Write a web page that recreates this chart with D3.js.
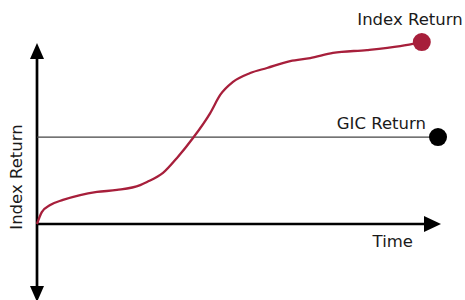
<!DOCTYPE html>
<html>
<head>
<meta charset="utf-8">
<script src="https://cdnjs.cloudflare.com/ajax/libs/d3/7.8.5/d3.min.js"></script>
<style>
  body { margin: 0; background: #fff; }
  text { font-family: "DejaVu Sans", sans-serif; font-size: 16.5px; fill: #1a1a1a; }
</style>
</head>
<body>
<svg id="chart"></svg>
<script>
// index return path, time vs return (arbitrary units)
const indexTime   = [0, 0.12, 0.33, 0.65, 1.08, 1.5, 2.0, 2.58, 2.75, 3.15, 3.5, 3.9, 4.33, 4.58, 4.9, 5.33, 5.75, 6.33, 6.83, 7.4, 8.25, 9.08, 9.62];
const indexReturn = [0, 0.66, 1.05, 1.33, 1.6, 1.77, 1.88, 2.15, 2.32, 2.82, 3.65, 4.75, 6.13, 7.13, 7.85, 8.34, 8.62, 9.0, 9.17, 9.45, 9.61, 9.83, 10.05];
const gicReturn = 4.8;
const gicEnd = 10;
const labels = { index: "Index Return", gic: "GIC Return", x: "Time", y: "Index Return" };

const width = 465, height = 300;
const svg = d3.select("#chart").attr("width", width).attr("height", height);

const x = d3.scaleLinear().domain([0, 10]).range([37, 437]);
const y = d3.scaleLinear().domain([0, 10]).range([224, 43]);

const red = "#a71f3b";

// axes with arrow heads
const x0 = x(0), y0 = y(0);
svg.append("line").attr("x1", x0).attr("y1", y0).attr("x2", 428).attr("y2", y0)
    .attr("stroke", "#000").attr("stroke-width", 2.7);
svg.append("path").attr("d", `M441,${y0} L424,${y0 - 8} L424,${y0 + 8} Z`).attr("fill", "#000");

svg.append("line").attr("x1", x0).attr("y1", 55).attr("x2", x0).attr("y2", 292)
    .attr("stroke", "#000").attr("stroke-width", 2.7);
svg.append("path").attr("d", `M${x0},43 L${x0 - 7},59 L${x0 + 7},59 Z`).attr("fill", "#000");
svg.append("path").attr("d", `M${x0},302 L${x0 - 7},286 L${x0 + 7},286 Z`).attr("fill", "#000");

// GIC line
svg.append("line")
    .attr("x1", x0).attr("y1", y(gicReturn))
    .attr("x2", x(gicEnd)).attr("y2", y(gicReturn))
    .attr("stroke", "#444").attr("stroke-width", 1.4);
svg.append("circle").attr("cx", x(gicEnd) + 1).attr("cy", y(gicReturn)).attr("r", 9).attr("fill", "#000");

// index line
const pts = indexTime.map((t, i) => [t, indexReturn[i]]);
const line = d3.line().x(d => x(d[0])).y(d => y(d[1])).curve(d3.curveMonotoneX);
svg.append("path").attr("d", line(pts))
    .attr("fill", "none").attr("stroke", red).attr("stroke-width", 2.3);
const last = pts[pts.length - 1];
svg.append("circle").attr("cx", x(last[0])).attr("cy", y(last[1])).attr("r", 9).attr("fill", red);

// labels
svg.append("text").attr("x", 410).attr("y", 25).attr("text-anchor", "middle").text(labels.index);
svg.append("text").attr("x", 426).attr("y", 129).attr("text-anchor", "end").text(labels.gic);
svg.append("text").attr("x", 413).attr("y", 247).attr("text-anchor", "end").text(labels.x);
svg.append("text").attr("transform", "translate(22,177) rotate(-90)")
    .attr("text-anchor", "middle").text(labels.y);
</script>
</body>
</html>
